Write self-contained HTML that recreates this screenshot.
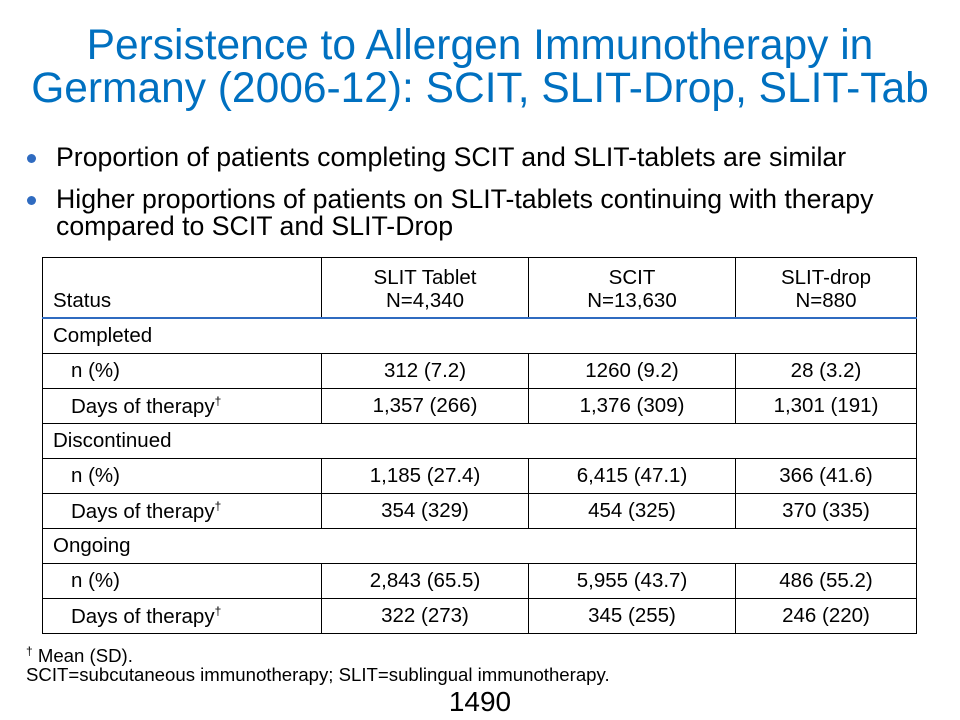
<!DOCTYPE html>
<html><head><meta charset="utf-8"><style>
body{margin:0;width:960px;height:720px;background:#fff;font-family:"Liberation Sans",sans-serif;position:relative;overflow:hidden}
.t{position:absolute;left:0;width:960px;text-align:center;color:#0070C0;font-size:42.5px;line-height:43px}
.b{position:absolute;left:56px;font-size:26.7px;color:#000;line-height:27px;white-space:nowrap}
.dot{position:absolute;left:27px;width:9px;height:9px;border-radius:50%;background:#2F6BC0}
table{position:absolute;left:42px;top:257px;border-collapse:collapse;font-size:20.5px;table-layout:fixed}
td{border:1px solid #000;padding:0;height:34px;text-align:center;white-space:nowrap;overflow:hidden}
td.l{text-align:left;padding-left:10px}
td.i{text-align:left;padding-left:28px}
tr.h td{height:54px;vertical-align:bottom;padding-bottom:5px;line-height:23px;border-bottom:2px solid #2F6BC0}
sup{font-size:12px}
.f{position:absolute;left:26px;font-size:18.6px;white-space:nowrap}
</style></head><body>
<div class="t" style="top:24px">Persistence to Allergen Immunotherapy in<br>Germany (2006-12): SCIT, SLIT-Drop, SLIT-Tab</div>
<div class="dot" style="top:154px"></div>
<div class="b" style="top:144px">Proportion of patients completing SCIT and SLIT-tablets are similar</div>
<div class="dot" style="top:196px"></div>
<div class="b" style="top:186px">Higher proportions of patients on SLIT-tablets continuing with therapy<br>compared to SCIT and SLIT-Drop</div>
<table>
<colgroup><col style="width:279px"><col style="width:207px"><col style="width:207px"><col style="width:181px"></colgroup>
<tr class="h"><td class="l">Status</td><td>SLIT Tablet<br>N=4,340</td><td>SCIT<br>N=13,630</td><td>SLIT-drop<br>N=880</td></tr>
<tr><td class="l" colspan="4">Completed</td></tr>
<tr><td class="i">n (%)</td><td>312 (7.2)</td><td>1260 (9.2)</td><td>28 (3.2)</td></tr>
<tr><td class="i">Days of therapy<sup>†</sup></td><td>1,357 (266)</td><td>1,376 (309)</td><td>1,301 (191)</td></tr>
<tr><td class="l" colspan="4">Discontinued</td></tr>
<tr><td class="i">n (%)</td><td>1,185 (27.4)</td><td>6,415 (47.1)</td><td>366 (41.6)</td></tr>
<tr><td class="i">Days of therapy<sup>†</sup></td><td>354 (329)</td><td>454 (325)</td><td>370 (335)</td></tr>
<tr><td class="l" colspan="4">Ongoing</td></tr>
<tr><td class="i">n (%)</td><td>2,843 (65.5)</td><td>5,955 (43.7)</td><td>486 (55.2)</td></tr>
<tr><td class="i">Days of therapy<sup>†</sup></td><td>322 (273)</td><td>345 (255)</td><td>246 (220)</td></tr>
</table>
<div class="f" style="top:644px"><sup>†</sup> Mean (SD).</div>
<div class="f" style="top:664px">SCIT=subcutaneous immunotherapy; SLIT=sublingual immunotherapy.</div>
<div style="position:absolute;left:0;width:960px;text-align:center;top:686px;font-size:28px">1490</div>
</body></html>
